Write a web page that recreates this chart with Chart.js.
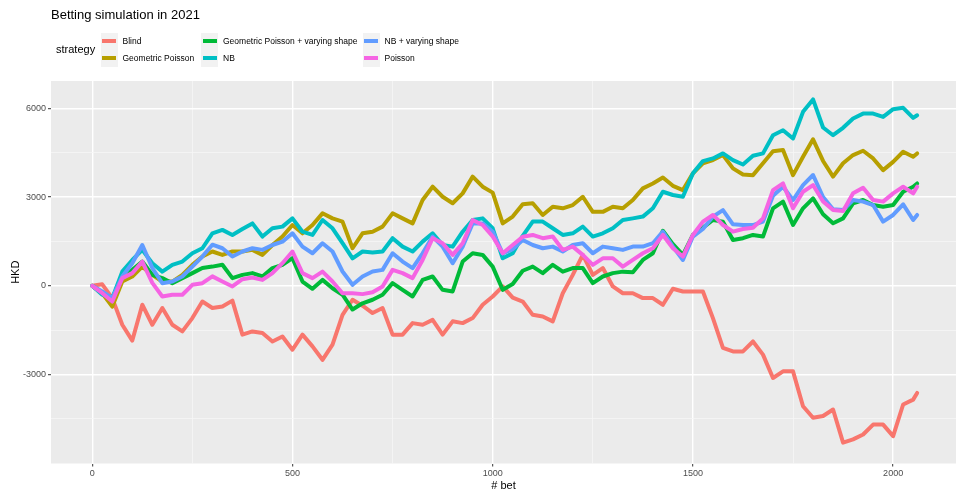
<!DOCTYPE html>
<html>
<head>
<meta charset="utf-8">
<script src="https://cdn.jsdelivr.net/npm/chart.js@4.4.1/dist/chart.umd.min.js"></script>
<style>
  body { margin: 0; background: #fff; font-family: "Liberation Sans", Arial, sans-serif; }
  #wrap { position: relative; width: 956px; height: 497px; }
  #c { position: absolute; left: 0; top: 0; }
  #title { position: absolute; left: 51px; top: 7px; font-size: 13px; line-height: 16px; color: #000; white-space: nowrap; }
  #legTitle { position: absolute; left: 56px; top: 42px; font-size: 11px; line-height: 15px; color: #000; }
  .key { position: absolute; width: 17px; height: 17px; background: #f2f2f2; }
  .key span { position: absolute; left: 1.5px; right: 1.5px; top: 6.8px; height: 3.6px; }
  .lab { position: absolute; font-size: 8.5px; line-height: 12px; color: #000; white-space: nowrap; }
</style>
</head>
<body>
<div id="wrap">
  <canvas id="c" width="956" height="497"></canvas>
  <div id="title">Betting simulation in 2021</div>
  <div id="legTitle">strategy</div>
</div>
<script>
// bet number (x)
const bets = [0, 25, 50, 75, 100, 125, 150, 175, 200, 225, 250, 275, 300,
  325, 350, 375, 400, 425, 450, 475, 500, 525, 550, 575, 600, 625, 650, 675, 700,
  725, 750, 775, 800, 825, 850, 875, 900, 925, 950, 975, 1000, 1025, 1050,
  1075, 1100, 1125, 1150, 1175, 1200, 1225, 1250, 1275, 1300, 1325, 1350, 1375, 1400, 1425, 1450,
  1475, 1500, 1525, 1550, 1575, 1600, 1625, 1650, 1675, 1700, 1725, 1750, 1775, 1800,
  1825, 1850, 1875, 1900, 1925, 1950, 1975, 2000, 2025, 2050, 2060];

// cumulative HKD per strategy
const blind = [0, 50, -415, -1315, -1850, -640, -1315, -750, -1315, -1540, -1090, -530, -750,
  -700, -500, -1650, -1540, -1595, -1880, -1710, -2160, -1650, -2045, -2500, -1990, -980, -470, -670, -920,
  -750, -1650, -1650, -1260, -1315, -1150, -1650, -1200, -1260, -1090, -640, -360, -20, -400,
  -530, -980, -1035, -1200, -250, 370, 1045, 370, 600, -20, -250, -250, -415, -415, -640, -100,
  -190, -190, -190, -1090, -2100, -2215, -2215, -1880, -2325, -3115, -2890, -2890, -4070, -4460,
  -4400, -4180, -5300, -5190, -5025, -4690, -4690, -5080, -4010, -3845, -3620];
const geomPoisson = [0, -250, -700, 145, 315, 650, 370, 145, 145, 370, 710, 990, 1160,
  1045, 1160, 1160, 1215, 1045, 1380, 1665, 2055, 1775, 2055, 2450, 2280, 2170, 1270, 1775, 1830,
  2000, 2450, 2280, 2110, 2900, 3350, 3010, 2790, 3125, 3690, 3350, 3150, 2110, 2340,
  2760, 2790, 2395, 2675, 2620, 2730, 3010, 2500, 2500, 2675, 2620, 2900, 3295, 3460, 3660, 3380,
  3235, 3800, 4140, 4250, 4420, 3970, 3765, 3740, 4140, 4550, 4590, 3740, 4360, 4950,
  4220, 3690, 4140, 4420, 4565, 4305, 3910, 4190, 4530, 4360, 4475];
const geomPoissonVar = [0, -250, -415, 315, 540, 820, 370, 260, 90, 260, 430, 600, 650,
  710, 260, 370, 430, 315, 600, 710, 935, 145, -100, 200, -80, -300, -800, -590, -470,
  -300, 90, -135, -360, 200, 315, -135, -190, 820, 1100, 1045, 650, -135, 60,
  510, 650, 430, 710, 480, 600, 600, 90, 315, 430, 480, 460, 875, 1100, 1860, 1410,
  1045, 1720, 1965, 2225, 2170, 1550, 1610, 1720, 1665, 2620, 2845, 2055, 2620, 2955,
  2420, 2115, 2280, 2790, 2900, 2730, 2675, 2730, 3180, 3350, 3460];
const nb = [0, -300, -415, 480, 875, 1215, 765, 480, 710, 820, 1100, 1270, 1775,
  1890, 1720, 1920, 2110, 1665, 1945, 2000, 2280, 1830, 1720, 2225, 1945, 1440, 930, 1160, 1130,
  1160, 1610, 1325, 1160, 1495, 1775, 1380, 1325, 1830, 2225, 2280, 1945, 930, 1100,
  1690, 2170, 2170, 1945, 1720, 1775, 2000, 1665, 1775, 1945, 2225, 2280, 2340, 2620, 3180, 3070,
  3010, 3800, 4215, 4305, 4475, 4250, 4100, 4395, 4475, 5090, 5260, 4980, 5880, 6300,
  5350, 5090, 5340, 5655, 5820, 5820, 5710, 5970, 6015, 5675, 5765];
const nbVar = [0, -190, -415, 315, 765, 1380, 600, 90, 145, 315, 650, 990, 1390,
  1270, 990, 1160, 1270, 1215, 1380, 1495, 1775, 1325, 1100, 1440, 1160, 485, 35, 315, 485,
  540, 1100, 820, 600, 1100, 1665, 1325, 765, 1325, 2110, 2110, 1830, 1100, 1240,
  1550, 1380, 1270, 1325, 1160, 1380, 1440, 1100, 1325, 1270, 1215, 1325, 1325, 1440, 1830, 1325,
  875, 1665, 1920, 2340, 2560, 2080, 2055, 2055, 2170, 3045, 3350, 2900, 3405, 3745,
  3000, 2585, 2560, 2900, 2845, 2730, 2170, 2395, 2755, 2225, 2395];
const poisson = [0, -250, -530, 260, 430, 820, 100, -360, -300, -300, 35, 90, 320,
  145, -20, 225, 280, 200, 430, 765, 1160, 430, 260, 480, 145, -250, -250, -280, -220,
  -20, 540, 430, 260, 875, 1610, 1440, 1045, 1440, 2225, 2055, 1665, 1100, 1380,
  1660, 1720, 1610, 1665, 1215, 1325, 1045, 710, 930, 930, 650, 875, 1100, 1270, 1720, 1270,
  990, 1720, 2170, 2395, 2055, 1830, 1920, 1965, 2280, 3235, 3460, 2620, 3180, 3405,
  2850, 2560, 2530, 3125, 3315, 2900, 2845, 3125, 3350, 3125, 3350];

const names = ['Blind', 'Geometric Poisson', 'Geometric Poisson + varying shape', 'NB', 'NB + varying shape', 'Poisson'];
const series = [blind, geomPoisson, geomPoissonVar, nb, nbVar, poisson];
const colors = ['#F8766D', '#B79F00', '#00BA38', '#00BFC4', '#619CFF', '#F564E3'];

// axis breaks
const xBreaks = [0, 500, 1000, 1500, 2000];
const xLabels = ['0', '500', '1000', '1500', '2000'];
const xMinor = [250, 750, 1250, 1750];
const yBreaks = [-3000, 0, 3000, 6000];
const yLabels = ['-3000', '0', '3000', '6000'];
const yMinor = [-4500, -1500, 1500, 4500];

// legend, filled column by column like ggplot
const legX = [100.5, 201, 362.5];
const legY = [32.5, 49.5];
const wrap = document.getElementById('wrap');
names.forEach((n, i) => {
  const col = Math.floor(i / 2), row = i % 2;
  const k = document.createElement('div');
  k.className = 'key';
  k.style.left = legX[col] + 'px';
  k.style.top = legY[row] + 'px';
  k.innerHTML = '<span style="background:' + colors[i] + '"></span>';
  wrap.appendChild(k);
  const l = document.createElement('div');
  l.className = 'lab';
  l.textContent = n;
  l.style.left = (legX[col] + 22) + 'px';
  l.style.top = (legY[row] + 2.5) + 'px';
  wrap.appendChild(l);
});

const panelBg = {
  id: 'panelBg',
  beforeDraw(chart) {
    const { ctx, chartArea: a } = chart;
    ctx.save();
    ctx.fillStyle = '#ebebeb';
    ctx.fillRect(a.left, a.top, a.right - a.left, a.bottom - a.top);
    ctx.restore();
  }
};

function gridOpts(breaks) {
  return {
    color: c => (c.tick && breaks.includes(c.tick.value)) ? '#ffffff' : '#f6f6f6',
    lineWidth: c => (c.tick && breaks.includes(c.tick.value)) ? 1.4 : 0.8,
    tickColor: c => (c.tick && breaks.includes(c.tick.value)) ? '#333333' : 'rgba(0,0,0,0)',
    tickLength: 3,
    tickWidth: 1
  };
}

new Chart(document.getElementById('c'), {
  type: 'line',
  data: {
    datasets: series.map((s, i) => ({
      label: names[i],
      data: bets.map((b, j) => ({ x: b, y: s[j] })),
      borderColor: colors[i],
      backgroundColor: colors[i],
      borderWidth: 4,
      pointRadius: 0,
      tension: 0,
      fill: false,
      borderJoinStyle: 'round',
      borderCapStyle: 'round',
      order: names.length - i
    }))
  },
  options: {
    responsive: false,
    animation: false,
    layout: { padding: { top: 81, left: 0, right: 0, bottom: 0 } },
    plugins: { legend: { display: false }, tooltip: { enabled: false } },
    scales: {
      x: {
        type: 'linear',
        min: -103,
        max: 2157,
        afterBuildTicks: s => { s.ticks = xBreaks.concat(xMinor).sort((a, b) => a - b).map(v => ({ value: v })); },
        afterFit: s => { s.height = 33.5; },
        grid: gridOpts(xBreaks),
        border: { display: false },
        ticks: {
          autoSkip: false, maxRotation: 0, padding: 2,
          color: '#4d4d4d', font: { family: 'Liberation Sans', size: 9 },
          callback: v => { const k = xBreaks.indexOf(v); return k >= 0 ? xLabels[k] : ''; }
        },
        title: { display: true, text: '# bet', color: '#000', font: { family: 'Liberation Sans', size: 11 }, padding: { top: 0, bottom: 4 } }
      },
      y: {
        min: -6004,
        max: 6922,
        afterBuildTicks: s => { s.ticks = yBreaks.concat(yMinor).sort((a, b) => a - b).map(v => ({ value: v })); },
        afterFit: s => { s.width = 51; },
        grid: gridOpts(yBreaks),
        border: { display: false },
        ticks: {
          autoSkip: false, padding: 2,
          color: '#4d4d4d', font: { family: 'Liberation Sans', size: 9 },
          callback: v => { const k = yBreaks.indexOf(v); return k >= 0 ? yLabels[k] : ''; }
        },
        title: { display: true, text: 'HKD', color: '#000', font: { family: 'Liberation Sans', size: 11 }, padding: { top: 9, bottom: 0 } }
      }
    }
  },
  plugins: [panelBg]
});
</script>
</body>
</html>
